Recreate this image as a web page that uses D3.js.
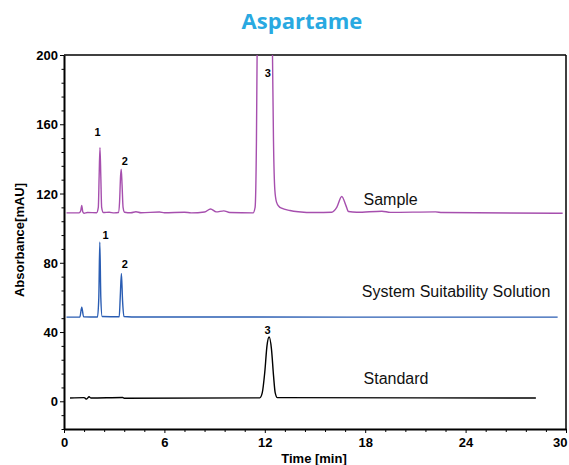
<!DOCTYPE html>
<html>
<head>
<meta charset="utf-8">
<script src="https://cdn.jsdelivr.net/npm/d3@7"></script>
<style>
    body { margin: 0; background: #fff; }
    .axis text { font-family: "Liberation Sans", Arial, sans-serif; font-size: 13px; font-weight: bold; fill: #000; }
    .axis path, .axis line { stroke: #000; }
</style>
</head>
<body>
<div id="chart"></div>
<script>
// time [min], absorbance [mAU]
var sampleTimes = [0.15, 0.9, 1.0, 1.06, 1.12, 1.2, 1.4, 1.95, 2.05, 2.1, 2.15, 2.2, 2.25, 2.35, 2.7, 3.0, 3.25, 3.32, 3.38, 3.42, 3.47, 3.53, 3.62,
    4.0, 4.3, 4.6, 5.7, 6.0, 7.2, 7.6, 8.4, 8.76, 9.1, 9.55, 9.9, 11.3, 11.42, 11.5, 11.54, 12.0, 12.46, 12.52, 12.6, 12.7, 12.85, 13.0, 13.5, 14.0, 15.0,
    16.0, 16.3, 16.6, 16.85, 17.0, 17.5, 19.0, 19.5, 22.2, 22.6, 29.8];
var sampleValues = [108.8, 108.8, 110, 113.1, 109.5, 108.6, 109, 108.9, 112, 130, 146.5, 130, 112, 109, 109.2, 108.8, 109, 115, 130, 134.1, 125, 112, 109.2,
    108.9, 109.5, 108.9, 109.3, 108.9, 109.2, 108.8, 109.3, 111.1, 109.4, 110, 109, 108.8, 112, 150, 200, 430, 200, 150, 122, 115, 112.5, 111.5, 110.2, 109.5, 109,
    109.2, 112, 118.3, 113, 109.6, 109.2, 109.8, 109.1, 109.4, 109, 108.6];

var sssTimes = [0.15, 0.95, 1.06, 1.17, 2.0, 2.08, 2.14, 2.2, 2.28, 3.3, 3.36, 3.43, 3.5, 3.58, 4.5, 29.5];
var sssValues = [48.6, 48.7, 54.4, 48.8, 48.7, 60, 92, 60, 49, 48.8, 60, 73.8, 58, 49, 48.7, 48.6];

var standardTimes = [0.36, 1.2, 1.35, 1.5, 1.6, 3.5, 3.6, 11.7, 11.85, 12.0, 12.13, 12.26, 12.4, 12.52, 12.62, 12.75, 28.2];
var standardValues = [1.9, 2.1, 1.3, 2.6, 1.9, 2.2, 1.8, 2.0, 5, 17, 32, 37.1, 30, 15, 5, 2.1, 1.9];

var traceNames = ["Sample", "System Suitability Solution", "Standard"];
var traceColors = ["#a64fae", "#2a5db3", "#000000"];
var traceNameTimes = [17.9, 17.8, 17.9];
var traceNameValues = [113.5, 60.5, 10];

var peakLabels = ["1", "2", "3", "1", "2", "3"];
var peakLabelTimes = [2.01, 3.64, 12.18, 2.49, 3.64, 12.16];
var peakLabelValues = [155.6, 138.5, 189.6, 95.9, 79.0, 40.9];

var xTicks = [0, 6, 12, 18, 24, 30];
var yTicks = [0, 40, 80, 120, 160, 200];

var width = 569, height = 465;
var margin = {top: 55, right: 3, bottom: 36, left: 64};

var svg = d3.select("#chart")
    .append("svg")
    .attr("width", width)
    .attr("height", height);

var x = d3.scaleLinear().domain([0, 30]).range([margin.left, width - margin.right]);
var y = d3.scaleLinear().domain([-16, 200]).range([height - margin.bottom, margin.top]);

// title
svg.append("text")
    .attr("x", 302)
    .attr("y", 29)
    .attr("text-anchor", "middle")
    .style("font-family", "'Open Sans', sans-serif")
    .style("font-weight", "bold")
    .style("font-size", "22px")
    .style("fill", "#29a9e1")
    .text("Aspartame");

svg.append("defs").append("clipPath")
    .attr("id", "plotClip")
    .append("rect")
    .attr("x", x(0))
    .attr("y", y(200))
    .attr("width", x(30) - x(0))
    .attr("height", y(-16) - y(200));

// minor ticks
var xMinor = d3.range(0, 31, 1.2).filter(function(d){ return xTicks.indexOf(d) < 0; });
var yMinor = d3.range(-16, 201, 8).filter(function(d){ return yTicks.indexOf(d) < 0; });

svg.append("g")
    .attr("class", "axis")
    .attr("transform", "translate(0," + y(-16) + ")")
    .call(d3.axisBottom(x).tickValues(xMinor).tickSize(3).tickFormat(""))
    .select(".domain").remove();

svg.append("g")
    .attr("class", "axis")
    .attr("transform", "translate(" + x(0) + ",0)")
    .call(d3.axisLeft(y).tickValues(yMinor).tickSize(2.5).tickFormat(""))
    .select(".domain").remove();

// major axes
var xAxis = svg.append("g")
    .attr("class", "axis")
    .attr("transform", "translate(0," + y(-16) + ")")
    .call(d3.axisBottom(x).tickValues(xTicks).tickSize(4).tickPadding(5).tickSizeOuter(0));
xAxis.select(".domain").attr("stroke-width", 2);
// keep the last label inside the window
xAxis.selectAll(".tick text")
    .filter(function(d){ return d === 30; })
    .attr("text-anchor", "end")
    .attr("dx", 1);

var yAxis = svg.append("g")
    .attr("class", "axis")
    .attr("transform", "translate(" + x(0) + ",0)")
    .call(d3.axisLeft(y).tickValues(yTicks).tickSize(4).tickPadding(2).tickSizeOuter(0));
yAxis.select(".domain").attr("stroke-width", 2);
yAxis.selectAll(".tick text").attr("dy", "0.36em");

// top and right frame
svg.append("line")
    .attr("x1", x(0)).attr("x2", x(30))
    .attr("y1", y(200)).attr("y2", y(200))
    .attr("stroke", "#000").attr("stroke-width", 1.5);
svg.append("line")
    .attr("x1", x(30)).attr("x2", x(30))
    .attr("y1", y(200)).attr("y2", y(-16))
    .attr("stroke", "#000").attr("stroke-width", 1.5);

// traces
var traces = [
    d3.zip(sampleTimes, sampleValues),
    d3.zip(sssTimes, sssValues),
    d3.zip(standardTimes, standardValues)
];

var line = d3.line()
    .x(function(d){ return x(d[0]); })
    .y(function(d){ return y(d[1]); })
    .curve(d3.curveMonotoneX);

svg.append("g")
    .attr("clip-path", "url(#plotClip)")
    .selectAll("path")
    .data(traces).enter()
    .append("path")
    .attr("fill", "none")
    .attr("stroke", function(d, i){ return traceColors[i]; })
    .attr("stroke-width", 1.4)
    .attr("stroke-linejoin", "round")
    .attr("d", line);

// trace names
svg.append("g")
    .selectAll("text")
    .data(traceNames).enter()
    .append("text")
    .attr("x", function(d, i){ return x(traceNameTimes[i]); })
    .attr("y", function(d, i){ return y(traceNameValues[i]); })
    .style("font-family", "'Liberation Sans', Arial, sans-serif")
    .style("font-size", "16px")
    .style("fill", "#111")
    .text(function(d){ return d; });

// peak numbers
svg.append("g")
    .selectAll("text")
    .data(peakLabels).enter()
    .append("text")
    .attr("x", function(d, i){ return x(peakLabelTimes[i]); })
    .attr("y", function(d, i){ return y(peakLabelValues[i]); })
    .attr("dy", "0.36em")
    .attr("text-anchor", "middle")
    .style("font-family", "'Liberation Sans', Arial, sans-serif")
    .style("font-size", "11px")
    .style("font-weight", "bold")
    .text(function(d){ return d; });

// axis titles
svg.append("text")
    .attr("transform", "translate(24,240) rotate(-90)")
    .attr("text-anchor", "middle")
    .style("font-family", "'Liberation Sans', Arial, sans-serif")
    .style("font-size", "13px")
    .style("font-weight", "bold")
    .text("Absorbance[mAU]");

svg.append("text")
    .attr("x", 314)
    .attr("y", 463)
    .attr("text-anchor", "middle")
    .style("font-family", "'Liberation Sans', Arial, sans-serif")
    .style("font-size", "13px")
    .style("font-weight", "bold")
    .text("Time [min]");
</script>
</body>
</html>
